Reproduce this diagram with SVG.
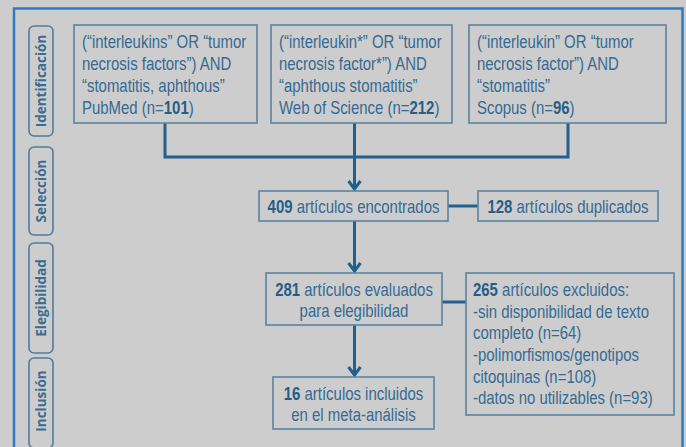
<svg xmlns="http://www.w3.org/2000/svg" width="686" height="447" viewBox="0 0 686 447">
  <style>
    .bg { fill: #cdcdcd; }
    .frame { fill: none; stroke: #2b7cc0; stroke-width: 2.5; }
    .stage rect { fill: none; stroke: #4f7d9f; stroke-width: 1.6; }
    .stage text { font-family: "Open Sans", "Noto Sans", sans-serif; font-weight: bold; font-size: 13.5px; fill: #3b6d93; text-anchor: middle; }
    .box rect { fill: none; stroke: #5a84a3; stroke-width: 1.6; }
    .box text { font-family: "Liberation Sans", Arial, sans-serif; font-size: 18px; fill: #346a94; }
    .box text.c { text-anchor: middle; }
    .box tspan.b { font-weight: bold; fill: #265e8a; }
    .conn { fill: none; stroke: #22608f; stroke-width: 3; }
  </style>
  <defs>
    <marker id="arrow" markerUnits="userSpaceOnUse" markerWidth="12" markerHeight="16" refX="10" refY="8" orient="auto" viewBox="0 0 12 16">
      <path d="M2,2 L10,8 L2,14" fill="none" stroke="#22608f" stroke-width="3"/>
    </marker>
  </defs>

  <rect class="bg" x="0" y="0" width="686" height="447"/>
  <!-- outer frame, open at the bottom -->
  <path class="frame" d="M14,460 L14,8.5 L682.5,8.5 L682.5,460"/>

  <!-- stage labels -->
  <g id="stage-identificacion" class="stage">
    <rect x="29" y="26" width="24" height="110" rx="5"/>
    <text transform="translate(46,81) rotate(-90)">Identificación</text>
  </g>
  <g id="stage-seleccion" class="stage">
    <rect x="29" y="147" width="24" height="88" rx="5"/>
    <text transform="translate(46,191) rotate(-90)">Selección</text>
  </g>
  <g id="stage-elegibilidad" class="stage">
    <rect x="29" y="243" width="24" height="110" rx="5"/>
    <text transform="translate(46,298) rotate(-90)">Elegibilidad</text>
  </g>
  <g id="stage-inclusion" class="stage">
    <rect x="29" y="358" width="24" height="90" rx="5"/>
    <text transform="translate(46,401) rotate(-90)">Inclusión</text>
  </g>

  <!-- connectors -->
  <g id="connectors">
    <path class="conn" d="M165,123 L165,157 L568,157 L568,123"/>
    <path class="conn" d="M354.5,123 L354.5,157"/>
    <path class="conn" d="M354.5,157 L354.5,189" marker-end="url(#arrow)"/>
    <path class="conn" d="M448,206 L478,206"/>
    <path class="conn" d="M354.5,221 L354.5,271" marker-end="url(#arrow)"/>
    <path class="conn" d="M442,302 L466,302"/>
    <path class="conn" d="M354.5,325 L354.5,375" marker-end="url(#arrow)"/>
  </g>

  <!-- search boxes (text set narrow by horizontal scaling) -->
  <g id="pubmed" class="box">
    <rect x="74" y="25" width="183" height="98"/>
    <text transform="translate(82,48) scale(0.83,1)">(“interleukins” OR “tumor</text>
    <text transform="translate(82,70) scale(0.83,1)">necrosis factors”) AND</text>
    <text transform="translate(82,92) scale(0.83,1)">“stomatitis, aphthous”</text>
    <text transform="translate(82,114) scale(0.83,1)">PubMed (n=<tspan class="b">101</tspan>)</text>
  </g>
  <g id="wos" class="box">
    <rect x="271" y="25" width="181" height="98"/>
    <text transform="translate(279,48) scale(0.83,1)">(“interleukin*” OR “tumor</text>
    <text transform="translate(279,70) scale(0.83,1)">necrosis factor*”) AND</text>
    <text transform="translate(279,92) scale(0.83,1)">“aphthous stomatitis”</text>
    <text transform="translate(279,114) scale(0.83,1)">Web of Science (n=<tspan class="b">212</tspan>)</text>
  </g>
  <g id="scopus" class="box">
    <rect x="469" y="25" width="197" height="98"/>
    <text transform="translate(477,48) scale(0.83,1)">(“interleukin” OR “tumor</text>
    <text transform="translate(477,70) scale(0.83,1)">necrosis factor”) AND</text>
    <text transform="translate(477,92) scale(0.83,1)">“stomatitis”</text>
    <text transform="translate(477,114) scale(0.83,1)">Scopus (n=<tspan class="b">96</tspan>)</text>
  </g>

  <!-- screening -->
  <g id="encontrados" class="box">
    <rect x="259" y="191" width="189" height="30"/>
    <text class="c" transform="translate(353.5,213) scale(0.83,1)"><tspan class="b">409</tspan> artículos encontrados</text>
  </g>
  <g id="duplicados" class="box">
    <rect x="478" y="191" width="180" height="30"/>
    <text class="c" transform="translate(568,213) scale(0.83,1)"><tspan class="b">128</tspan> artículos duplicados</text>
  </g>

  <!-- eligibility -->
  <g id="evaluados" class="box">
    <rect x="266" y="273" width="176" height="52"/>
    <text class="c" transform="translate(354,296) scale(0.83,1)"><tspan class="b">281</tspan> artículos evaluados</text>
    <text class="c" transform="translate(354,317) scale(0.83,1)">para elegibilidad</text>
  </g>
  <g id="excluidos" class="box">
    <rect x="466" y="273" width="208" height="142"/>
    <text transform="translate(473,296) scale(0.83,1)"><tspan class="b">265</tspan> artículos excluidos:</text>
    <text transform="translate(473,318) scale(0.83,1)">-sin disponibilidad de texto</text>
    <text transform="translate(473,339) scale(0.83,1)">completo (n=64)</text>
    <text transform="translate(473,361) scale(0.83,1)">-polimorfismos/genotipos</text>
    <text transform="translate(473,383) scale(0.83,1)">citoquinas (n=108)</text>
    <text transform="translate(473,404) scale(0.83,1)">-datos no utilizables (n=93)</text>
  </g>

  <!-- inclusion -->
  <g id="incluidos" class="box">
    <rect x="273" y="377" width="161" height="52"/>
    <text class="c" transform="translate(353.5,400) scale(0.83,1)"><tspan class="b">16</tspan> artículos incluidos</text>
    <text class="c" transform="translate(353.5,421) scale(0.83,1)">en el meta-análisis</text>
  </g>
</svg>
